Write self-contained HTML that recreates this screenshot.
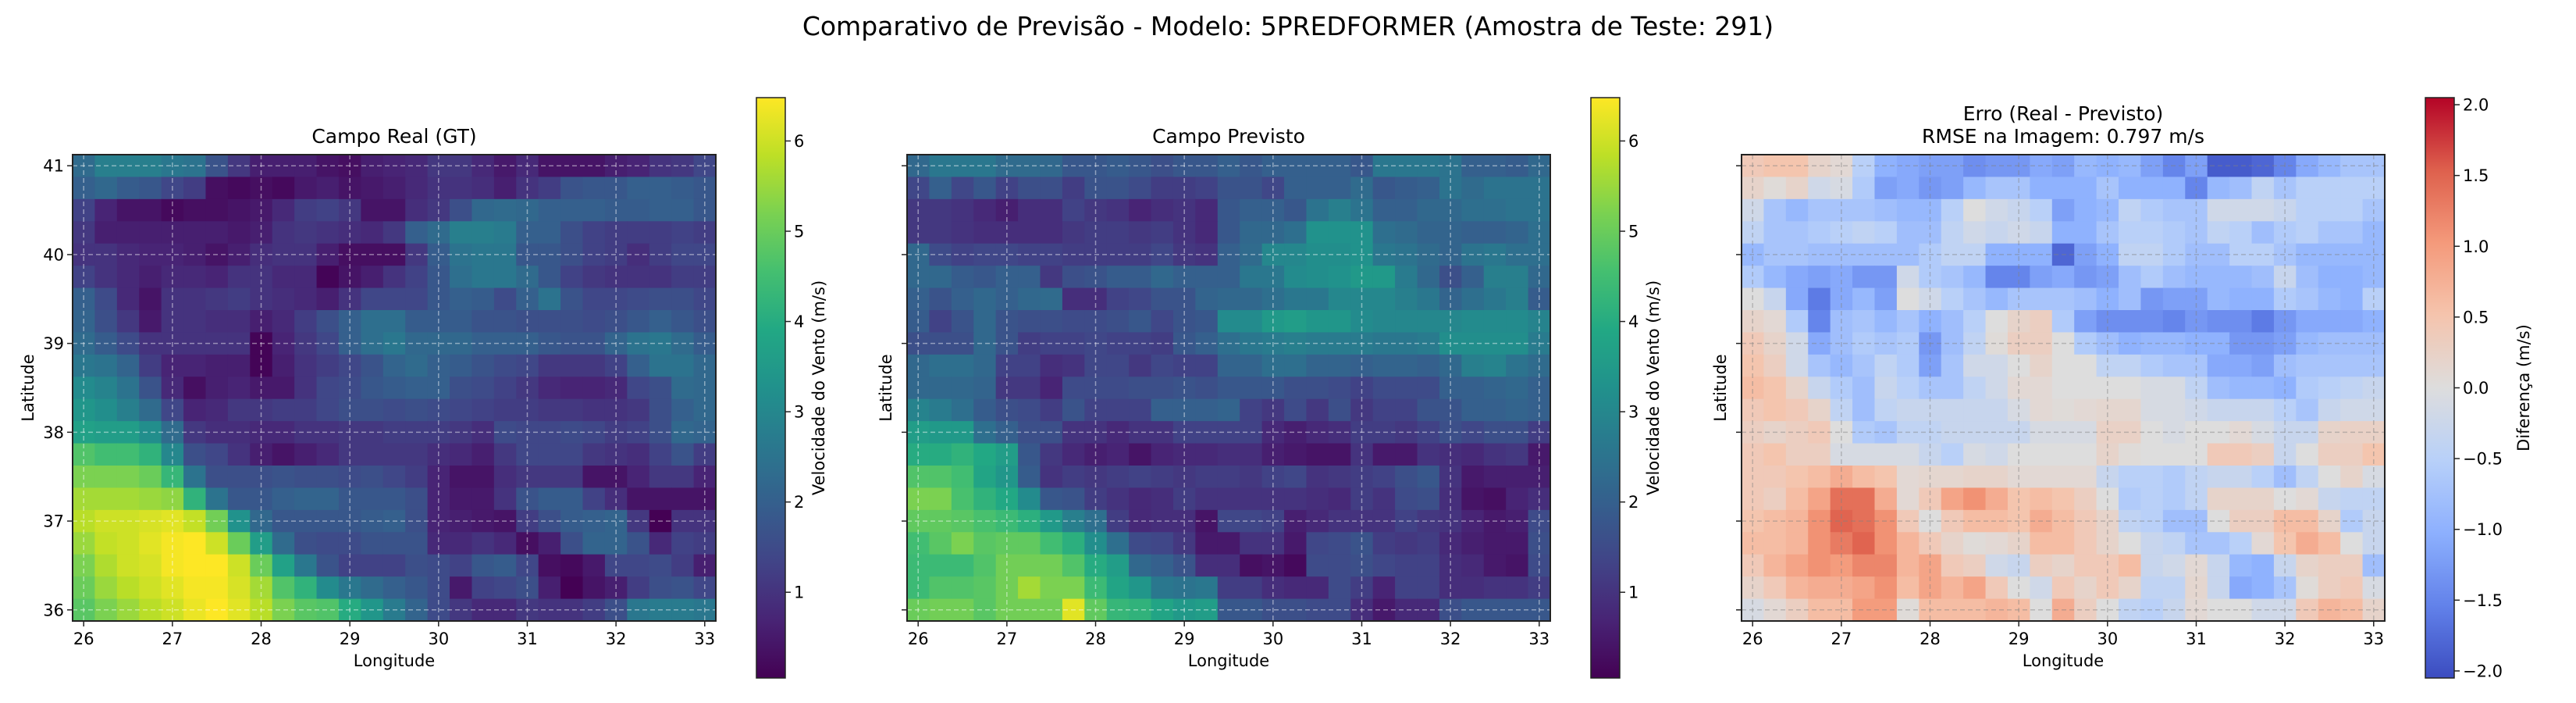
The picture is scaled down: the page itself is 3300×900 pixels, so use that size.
<!DOCTYPE html>
<html><head><meta charset="utf-8">
<style>
html,body{margin:0;padding:0;background:#fff;}
svg{display:block;font-family:"DejaVu Sans","Liberation Sans",sans-serif;}
</style></head>
<body>
<svg id="fig" width="3300" height="900" viewBox="0 0 3300 900" xmlns="http://www.w3.org/2000/svg">
<text x="1650" y="45" font-size="33" text-anchor="middle" fill="#000">Comparativo de Previsão - Modelo: 5PREDFORMER (Amostra de Teste: 291)</text>
<defs id="defs"></defs>
<g id="root"></g>
</svg>
<script>
const gtData = [
[2.3,2.8,2.8,2.8,2.6,2.5,1.7,1.1,0.6,0.6,0.6,0.4,0.3,0.6,0.7,0.8,1.1,1.1,0.8,0.5,0.8,0.4,0.4,0.4,0.6,0.7,1.0,1.1,1.4],
[2.0,2.2,1.9,1.8,1.4,1.2,0.3,0.2,0.3,0.2,0.5,0.6,0.4,0.5,0.6,0.8,1.0,1.0,0.9,0.6,1.0,1.2,1.7,1.8,1.8,2.0,2.0,1.9,1.8],
[1.3,0.7,0.4,0.4,0.2,0.3,0.3,0.4,0.5,0.8,1.2,1.3,1.1,0.4,0.4,0.9,1.1,1.6,2.2,2.3,2.2,2.0,2.0,2.0,1.9,1.9,2.0,2.0,1.8],
[1.1,0.6,0.6,0.6,0.6,0.6,0.6,0.5,0.6,1.0,1.1,1.0,0.9,0.8,1.1,2.0,2.3,2.8,2.8,2.7,2.0,2.0,1.6,1.3,1.2,1.2,1.2,1.3,1.2],
[1.0,1.0,0.8,0.7,0.7,0.6,0.4,0.6,0.9,1.0,1.0,0.6,0.3,0.3,0.3,1.1,1.9,2.5,2.6,2.6,1.8,1.8,1.6,1.3,1.2,0.9,1.2,1.4,1.4],
[1.3,1.0,0.8,0.6,0.8,0.8,0.7,1.0,1.0,0.8,0.8,0.1,0.4,0.6,1.0,1.3,1.8,2.4,2.6,2.6,2.3,1.8,1.3,1.1,1.0,1.0,1.0,1.2,1.2],
[2.0,1.5,0.8,0.4,1.0,1.0,1.1,1.2,1.0,0.9,0.8,0.6,1.0,1.4,1.4,1.4,1.8,2.0,1.9,1.5,2.0,2.5,1.7,1.4,1.4,1.5,1.6,1.6,1.4],
[2.1,1.6,1.1,0.5,1.0,1.0,0.9,0.9,0.6,0.8,1.2,1.6,2.0,2.4,2.4,1.9,1.9,1.9,1.7,1.7,1.6,1.6,1.6,1.5,1.6,1.8,2.0,1.8,1.6],
[2.3,1.9,1.5,1.0,1.0,1.0,1.0,1.0,0.1,0.7,1.1,1.4,2.0,2.4,2.6,2.2,2.2,2.2,2.0,2.0,2.0,1.8,1.7,1.7,2.1,2.5,2.6,2.3,1.9],
[2.6,2.5,2.1,1.2,0.7,0.7,0.6,0.6,0.1,0.6,1.0,1.2,1.4,1.7,2.1,2.3,2.0,1.9,1.7,1.5,1.4,1.1,1.1,1.1,1.3,2.0,2.5,2.5,2.2],
[3.1,2.9,2.5,1.7,0.8,0.3,0.6,0.7,0.5,0.5,1.0,1.4,1.5,1.8,1.9,2.0,2.0,1.6,1.5,1.3,1.1,0.8,0.7,0.7,0.8,1.4,1.6,2.3,2.2],
[3.4,3.2,2.8,2.3,1.4,0.7,0.8,1.1,1.1,1.2,1.2,1.4,1.6,1.6,1.5,1.6,1.5,1.4,1.3,1.2,1.2,1.1,1.1,1.0,1.0,1.1,1.6,2.0,2.2],
[3.7,3.6,3.6,3.2,2.3,1.1,0.9,0.9,0.8,0.8,1.0,1.0,1.1,1.1,1.2,1.2,1.2,1.1,0.9,1.5,1.4,1.4,1.5,1.4,1.2,1.3,1.6,2.2,2.1],
[4.7,4.5,4.5,4.2,3.0,1.6,1.4,1.0,0.6,0.4,0.6,0.8,1.1,1.1,1.1,1.1,0.9,0.8,0.6,1.1,1.4,1.4,1.4,1.1,1.0,0.9,1.3,1.7,1.2],
[5.2,5.2,5.2,5.0,4.3,2.5,1.6,1.6,1.6,1.7,1.6,1.6,1.5,1.6,1.4,1.2,0.7,0.4,0.4,0.9,1.1,1.1,1.1,0.4,0.4,0.7,1.1,1.1,0.7],
[5.6,5.6,5.6,5.5,5.4,4.2,2.5,1.8,1.8,2.0,2.1,2.1,1.8,1.8,1.8,1.6,0.7,0.5,0.5,1.0,1.7,1.9,1.9,1.3,0.9,0.4,0.4,0.4,0.4],
[5.8,6.0,6.0,6.1,6.2,5.9,5.1,3.3,2.2,1.8,1.8,1.8,1.8,1.9,2.0,1.6,0.7,0.6,0.5,0.4,1.2,1.6,1.9,2.0,2.1,1.1,0.05,1.0,1.0],
[5.5,5.9,6.0,6.2,6.4,6.5,6.0,5.0,3.6,2.3,1.6,1.5,1.5,1.7,1.7,1.7,0.8,0.8,1.0,0.8,0.3,0.6,1.6,2.1,2.1,1.7,0.8,1.3,1.2],
[5.2,5.7,6.0,6.1,6.4,6.5,6.5,6.0,5.0,3.7,2.6,1.7,1.3,1.3,1.3,1.6,1.5,1.3,1.8,1.9,1.4,0.3,0.2,0.5,1.4,1.4,1.5,1.2,0.6],
[5.0,5.5,5.8,6.0,6.2,6.4,6.4,6.1,5.6,4.7,4.2,3.1,2.6,2.3,2.0,1.8,1.5,0.5,1.3,1.4,1.6,0.6,0.05,0.4,0.6,1.2,1.6,1.7,1.4],
[4.8,5.2,5.5,5.8,6.0,6.3,6.5,6.2,5.8,5.2,4.8,4.7,4.0,3.4,2.7,2.1,1.5,1.1,0.8,0.8,1.1,1.0,1.0,1.2,1.6,2.6,2.7,2.7,2.6]
];
const predData = [
[2.2,2.6,2.6,2.6,2.3,2.3,2.2,1.8,1.8,1.9,1.8,1.6,1.8,1.8,2.0,1.8,2.0,2.0,2.0,2.0,1.8,2.6,2.6,2.6,2.5,2.0,2.0,1.9,2.2],
[1.4,2.0,1.4,1.8,1.3,1.6,1.6,1.2,1.7,1.7,1.5,1.2,1.2,1.3,1.7,1.7,1.4,2.0,2.0,2.0,2.3,1.8,1.9,2.0,2.5,2.3,2.5,2.5,2.5],
[1.1,1.1,1.0,0.8,0.6,0.9,0.9,1.3,1.1,1.0,0.7,0.9,1.0,0.8,1.8,2.0,2.0,1.8,2.5,2.8,2.5,2.0,2.0,2.2,2.2,2.4,2.4,2.5,2.5],
[1.1,1.1,1.0,0.9,0.9,0.9,0.9,1.1,1.2,1.2,1.1,1.2,1.0,0.8,1.8,2.2,2.2,2.4,3.3,3.3,3.3,2.4,2.3,2.1,2.1,2.0,2.0,2.1,2.4],
[2.2,1.5,1.3,1.4,1.4,1.3,1.3,1.2,1.2,1.2,1.2,1.4,1.1,1.0,2.0,2.3,3.0,3.0,3.2,3.2,3.3,2.6,2.5,2.3,2.1,2.5,2.6,2.4,2.4],
[2.2,2.2,1.9,1.8,2.0,2.0,1.1,1.6,1.7,1.9,1.9,2.2,2.0,2.0,2.0,2.6,2.6,3.1,3.2,3.3,3.5,3.5,2.7,2.2,1.6,2.0,2.8,2.8,2.2],
[2.0,1.7,2.0,2.2,2.0,2.2,2.3,0.9,0.9,1.3,1.4,1.7,1.7,2.1,2.2,2.2,2.4,2.6,2.6,3.0,3.0,3.0,2.8,2.6,2.1,2.4,2.6,2.8,1.9],
[1.9,1.3,1.7,2.2,1.7,1.6,1.6,1.5,1.5,1.6,1.8,1.4,1.7,1.8,3.1,3.1,3.5,3.6,3.4,3.4,3.1,3.0,3.0,3.0,3.0,3.1,3.1,3.1,2.9],
[1.6,1.6,1.6,2.2,1.7,1.2,1.3,1.3,1.4,1.3,1.3,1.2,1.8,2.0,2.4,2.6,2.7,2.8,2.7,2.7,2.7,2.6,2.6,2.7,3.2,3.2,3.2,3.2,2.7],
[2.2,2.4,2.4,2.2,1.3,1.3,0.9,1.0,1.4,1.4,1.1,1.4,1.3,1.3,2.1,2.1,2.4,2.4,2.1,2.1,2.0,2.1,2.1,2.0,2.2,2.8,2.9,2.5,2.3],
[2.2,2.2,2.2,2.1,1.1,1.1,0.7,1.5,1.5,1.5,1.6,1.6,1.7,1.6,1.8,1.8,1.8,1.6,1.6,1.5,1.3,1.5,1.5,1.5,2.0,2.0,2.1,2.2,2.0],
[2.9,2.7,2.4,1.9,1.6,1.5,1.2,1.7,1.3,1.3,1.3,2.0,2.0,2.0,2.1,1.3,1.1,1.5,1.1,1.6,1.1,1.3,1.3,1.7,1.7,2.0,2.0,2.1,2.0],
[3.6,3.5,3.5,2.4,2.0,1.6,1.6,1.0,1.0,0.8,1.0,1.0,1.3,1.3,1.3,1.3,0.8,0.6,0.8,0.9,1.2,1.2,1.1,1.3,1.6,1.4,1.6,1.6,1.2],
[4.0,4.0,4.2,3.9,3.6,1.8,1.1,0.8,0.6,0.7,0.4,0.7,0.8,0.8,0.9,0.9,0.6,0.5,0.4,0.4,1.0,0.5,0.5,1.0,0.9,0.8,1.0,1.1,0.5],
[4.7,4.7,4.5,3.8,3.4,1.9,1.0,1.2,1.1,1.2,1.3,1.2,1.1,1.2,1.2,1.1,1.3,1.4,1.0,1.1,1.2,1.3,1.6,1.8,1.0,0.5,0.6,0.6,0.6],
[5.2,5.2,4.6,4.2,3.9,3.1,1.8,1.7,1.2,1.0,0.8,0.9,1.2,1.0,1.0,1.0,1.0,1.0,0.9,0.8,1.2,1.0,1.5,1.6,0.9,0.4,0.3,0.7,0.9],
[4.9,4.9,4.8,4.6,4.4,4.1,3.5,2.8,2.4,1.2,0.8,0.9,0.9,0.4,1.4,1.4,1.3,0.6,0.8,1.0,1.0,1.0,1.3,1.1,1.0,0.7,0.5,0.6,1.5],
[4.5,4.8,5.2,4.8,4.9,4.9,4.5,4.1,3.2,2.4,1.5,1.4,1.1,0.5,0.5,1.0,1.0,0.5,1.4,1.5,1.7,1.2,1.1,1.2,0.8,0.6,0.5,0.5,1.6],
[4.4,4.4,4.4,4.7,5.1,5.1,5.1,4.7,4.0,3.6,2.2,2.0,1.7,0.9,0.9,0.3,0.4,0.2,1.5,1.5,1.6,1.4,1.3,1.3,0.9,0.8,0.5,0.4,1.5],
[4.4,4.7,4.7,4.8,5.1,5.6,5.2,5.2,4.4,3.8,3.4,2.6,2.5,2.6,1.2,1.2,0.9,0.8,0.8,1.5,1.2,0.7,1.3,1.3,0.9,0.9,1.0,1.0,1.2],
[5.0,5.1,5.1,4.8,5.1,5.1,5.1,6.2,4.9,4.3,4.2,3.8,3.5,3.6,1.8,1.8,1.6,1.6,1.5,1.5,0.9,0.5,0.8,0.8,1.6,1.8,1.8,1.8,1.8]
];
const errData = [
[0.4,0.5,0.5,0.2,0.1,-0.5,-1.0,-1.1,-1.2,-1.2,-1.4,-1.3,-1.3,-1.1,-1.2,-0.9,-1.0,-0.9,-1.2,-1.5,-1.2,-1.9,-1.9,-1.8,-1.5,-1.1,-0.9,-0.7,-0.7],
[0.2,0.05,0.2,-0.2,-0.1,-0.6,-1.2,-1.1,-1.3,-1.2,-0.9,-0.7,-0.7,-1.0,-1.0,-1.0,-0.7,-1.0,-1.0,-1.0,-1.5,-0.9,-0.8,-0.4,-0.7,-0.5,-0.5,-0.5,-0.5],
[-0.2,-0.7,-0.9,-0.7,-0.7,-0.7,-0.8,-0.9,-0.9,-0.5,0.0,-0.2,-0.3,-0.5,-1.2,-1.0,-0.9,-0.4,-0.6,-0.7,-0.7,-0.2,-0.2,-0.2,-0.3,-0.5,-0.5,-0.5,-0.7],
[-0.4,-0.7,-0.7,-0.6,-0.5,-0.4,-0.5,-0.8,-0.8,-0.4,-0.2,-0.3,-0.2,-0.3,-1.0,-1.0,-0.7,-0.5,-0.5,-0.6,-0.7,-0.4,-0.5,-0.8,-0.6,-0.5,-0.7,-0.7,-0.9],
[-0.9,-0.7,-0.7,-0.8,-0.8,-0.8,-0.8,-0.8,-0.6,-0.4,-0.4,-1.0,-1.0,-1.0,-1.8,-1.2,-1.0,-0.4,-0.4,-0.6,-0.8,-0.8,-0.5,-0.5,-0.7,-0.9,-0.9,-0.9,-0.9],
[-0.6,-0.9,-1.1,-1.2,-1.1,-1.3,-1.3,-0.2,-0.6,-0.7,-0.9,-1.5,-1.5,-1.2,-1.1,-1.3,-1.2,-0.8,-0.6,-0.8,-0.9,-0.9,-0.9,-0.8,-0.3,-0.8,-1.0,-1.0,-0.9],
[0.0,-0.3,-1.1,-1.6,-1.1,-0.9,-1.2,0.0,-0.2,-0.5,-0.7,-0.9,-0.7,-0.7,-0.7,-0.8,-1.0,-0.8,-1.3,-1.2,-1.2,-0.9,-1.0,-1.0,-0.6,-0.7,-0.9,-1.0,-0.5],
[0.2,0.1,-0.6,-1.5,-0.8,-0.7,-0.9,-0.7,-1.0,-0.8,-0.5,0.0,0.2,0.3,-0.6,-1.2,-1.4,-1.4,-1.4,-1.5,-1.3,-1.4,-1.4,-1.6,-1.3,-1.1,-1.1,-1.1,-1.0],
[0.4,0.2,-0.2,-1.1,-0.8,-0.6,-0.7,-0.6,-1.3,-0.8,-0.4,0.05,0.3,0.3,0.0,-0.6,-0.8,-1.0,-0.9,-0.9,-1.0,-1.0,-1.3,-1.3,-1.2,-0.9,-0.8,-0.8,-0.8],
[0.5,0.3,-0.2,-0.7,-0.9,-0.7,-0.4,-0.6,-1.2,-0.7,-0.2,-0.2,0.0,0.2,0.0,0.0,-0.4,-0.4,-0.6,-0.7,-0.7,-1.1,-1.1,-1.2,-0.8,-0.7,-0.7,-0.7,-0.7],
[0.6,0.5,0.2,-0.3,-0.6,-0.8,-0.3,-0.5,-0.7,-0.7,-0.4,-0.2,0.1,0.1,0.0,0.0,0.0,0.0,-0.1,-0.1,-0.4,-0.8,-0.9,-0.9,-1.0,-0.6,-0.5,-0.4,-0.3],
[0.4,0.5,0.4,0.2,-0.4,-0.8,-0.4,-0.3,-0.3,-0.3,-0.3,-0.3,-0.1,0.1,0.05,0.1,0.15,0.15,-0.1,-0.1,-0.2,-0.3,-0.3,-0.3,-0.5,-0.7,-0.3,-0.2,-0.2],
[0.3,0.2,0.3,0.4,0.0,-0.6,-0.7,-0.4,-0.4,-0.3,-0.3,-0.3,-0.3,-0.1,-0.1,-0.1,0.25,0.25,0.0,-0.1,0.0,0.0,0.1,-0.1,-0.3,-0.3,0.2,0.25,0.25],
[0.4,0.5,0.3,0.3,-0.1,-0.1,-0.1,-0.1,-0.3,-0.5,-0.1,-0.2,0.0,0.0,0.0,0.0,0.2,0.05,0.0,0.0,0.0,0.4,0.4,0.3,-0.3,0.0,0.3,0.3,0.5],
[0.4,0.4,0.5,0.6,0.8,0.6,0.5,0.1,0.15,0.15,0.2,0.2,0.1,0.1,0.1,0.1,-0.3,-0.5,-0.5,-0.6,-0.4,-0.3,-0.3,-0.5,-0.8,-0.4,0.0,0.2,-0.1],
[0.4,0.3,0.6,0.9,1.4,1.4,0.8,0.1,0.4,0.9,1.1,0.8,0.5,0.6,0.5,0.3,0.0,-0.6,-0.5,-0.6,-0.4,0.2,0.2,0.2,0.0,0.1,-0.3,-0.4,-0.4],
[0.5,0.6,0.7,1.1,1.5,1.4,1.1,0.4,0.0,0.4,0.6,0.6,0.5,0.8,0.6,0.4,0.2,-0.4,-0.5,-0.8,-0.8,0.0,0.3,0.3,0.6,0.6,0.2,-0.6,-0.3],
[0.6,0.6,0.7,1.1,1.3,1.5,1.1,0.7,0.4,0.2,0.05,0.1,0.2,0.6,0.6,0.4,0.2,0.0,-0.3,-0.4,-0.7,-0.7,-0.5,0.1,0.5,0.8,0.6,0.0,-0.3],
[0.4,0.7,0.9,1.1,1.0,1.2,1.2,0.7,0.9,0.4,0.3,-0.2,-0.3,0.3,0.2,0.4,0.4,0.6,-0.3,-0.2,0.1,-0.3,-0.9,-1.0,-0.3,0.2,0.3,0.3,-0.8],
[0.2,0.4,0.7,0.8,0.8,0.9,1.1,0.6,0.9,0.7,0.9,0.4,0.0,-0.2,0.4,0.2,0.4,0.2,-0.4,-0.4,0.15,-0.3,-1.1,-1.0,-0.7,0.05,0.3,0.4,-0.1],
[-0.1,0.1,0.3,0.6,0.6,1.0,1.0,0.05,0.6,0.6,0.6,0.7,0.6,0.0,0.8,0.3,0.0,-0.4,-0.5,-0.3,0.1,0.0,0.0,-0.2,-0.2,0.4,0.7,0.6,0.2]
];
const lonTicks = [26,27,28,29,30,31,32,33];
const latTicks = [36,37,38,39,40,41];
const speedTicks = [1,2,3,4,5,6];
const errTicks = [-2.0,-1.5,-1.0,-0.5,0.0,0.5,1.0,1.5,2.0];
const speedRange = [0.05,6.48];
const errRange = [-2.05,2.05];
const lonStart = 26, latStart = 41, step = 0.25;

const NS='http://www.w3.org/2000/svg';
const root=document.getElementById('root');
const defs=document.getElementById('defs');
function mk(tag,attrs,parent){const e=document.createElementNS(NS,tag);for(const k in attrs)e.setAttribute(k,attrs[k]);(parent||root).appendChild(e);return e;}

const VIR=[[68,1,84],[72,36,117],[65,68,135],[53,95,141],[42,120,142],[33,145,140],[34,168,132],[68,191,112],[122,209,81],[189,223,38],[253,231,37]];
const CW=[[59,76,192],[98,130,234],[141,176,254],[184,208,249],[221,221,221],[245,196,173],[244,154,123],[222,96,77],[180,4,38]];
function cmap(stops,t){t=Math.max(0,Math.min(1,t));const n=stops.length-1;const f=t*n;const i=Math.min(n-1,Math.floor(f));const r=f-i;const a=stops[i],b=stops[i+1];return 'rgb('+a.map((v,k)=>Math.round(v+(b[k]-v)*r)).join(',')+')';}

const T=198,B=795,H=B-T,PW=824;
const panels=[
 {L:93,data:gtData,stops:VIR,range:speedRange,title:['Campo Real (GT)'],name:'real',grid:'rgba(255,255,255,0.45)',ylabels:true,cbX:969,cbTicks:speedTicks,cbLabel:'Velocidade do Vento (m/s)',fmt:v=>String(v)},
 {L:1162,data:predData,stops:VIR,range:speedRange,title:['Campo Previsto'],name:'predicted',grid:'rgba(255,255,255,0.45)',ylabels:false,cbX:2038,cbTicks:speedTicks,cbLabel:'Velocidade do Vento (m/s)',fmt:v=>String(v)},
 {L:2231,data:errData,stops:CW,range:errRange,title:['Erro (Real - Previsto)','RMSE na Imagem: 0.797 m/s'],name:'error',grid:'rgba(128,128,128,0.45)',ylabels:false,cbX:3107,cbTicks:errTicks,cbLabel:'Diferença (m/s)',fmt:v=>(v<0?'\u2212':'')+Math.abs(v).toFixed(1)}
];
const CBT=125,CBB=868,CBW=37;

panels.forEach((p,pi)=>{
 p.R=p.L+PW;
 const W=PW;
 const lon0=lonStart-step/2, lon1=lonStart+step*(p.data[0].length-1)+step/2;
 const lat1=latStart+step/2, lat0=latStart-step*(p.data.length-1)-step/2;
 const xs=v=>p.L+(v-lon0)/(lon1-lon0)*W;
 const ys=v=>T+(lat1-v)/(lat1-lat0)*H;
 const g=mk('g',{});
 
 
 const hm=mk('g',{},g);
 
 
 p.data.forEach((row,j)=>row.forEach((v,i)=>{
  const lon=lonStart+i*step, lat=latStart-j*step;
  const x0=xs(lon-step/2), x1=xs(lon+step/2), y0=ys(lat+step/2), y1=ys(lat-step/2);
  const r=mk('rect',{x:x0.toFixed(2),y:y0.toFixed(2),width:(x1-x0+0.6).toFixed(2),height:(y1-y0+0.6).toFixed(2),fill:cmap(p.stops,(v-p.range[0])/(p.range[1]-p.range[0]))},hm);
  
  
 }));
 lonTicks.forEach(t=>{const l=mk('line',{x1:xs(t),x2:xs(t),y1:T,y2:B,stroke:p.grid,'stroke-width':1.5,'stroke-dasharray':'6,4'},g);});
 latTicks.forEach(t=>{const l=mk('line',{x1:p.L,x2:p.R,y1:ys(t),y2:ys(t),stroke:p.grid,'stroke-width':1.5,'stroke-dasharray':'6,4'},g);});
 const fr=mk('rect',{x:p.L,y:T,width:W,height:H,fill:'none',stroke:'#222','stroke-width':2},g);
 
 
 lonTicks.forEach(t=>{
  mk('line',{x1:xs(t),x2:xs(t),y1:B,y2:B+7,stroke:'#222','stroke-width':1.5},g);
  const tx=mk('text',{x:xs(t),y:B+30,'font-size':21,'text-anchor':'middle'},g);tx.textContent=t;
  
  
 });
 latTicks.forEach(t=>{
  mk('line',{x1:p.L-7,x2:p.L,y1:ys(t),y2:ys(t),stroke:'#222','stroke-width':1.5},g);
  if(p.ylabels){const tx=mk('text',{x:p.L-11,y:ys(t)+7.5,'font-size':21,'text-anchor':'end'},g);tx.textContent=t;
   
   }
 });
 const xl=mk('text',{x:(p.L+p.R)/2,y:B+58,'font-size':21,'text-anchor':'middle'},g);xl.textContent='Longitude';
 
 
 const ylx=p.L-(p.ylabels?50:20);
 const yl=mk('text',{x:ylx,y:(T+B)/2,'font-size':21,'text-anchor':'middle',transform:'rotate(-90 '+ylx+' '+((T+B)/2)+')'},g);yl.textContent='Latitude';
 
 
 p.title.forEach((s,k)=>{
  const ty=T-15-(p.title.length-1-k)*29;
  const tt=mk('text',{x:(p.L+p.R)/2,y:ty,'font-size':25,'text-anchor':'middle'},g);tt.textContent=s;
  
  
 });
 const gid='grad'+pi;
 const lg=mk('linearGradient',{id:gid,x1:0,y1:1,x2:0,y2:0},defs);
 for(let k=0;k<=40;k++){mk('stop',{offset:(k/40),'stop-color':cmap(p.stops,k/40)},lg);}
 const cb=mk('g',{},g);
 
 
 mk('rect',{x:p.cbX,y:CBT,width:CBW,height:CBB-CBT,fill:'url(#'+gid+')',stroke:'#222','stroke-width':1.5},cb);
 const cy=v=>CBB-(v-p.range[0])/(p.range[1]-p.range[0])*(CBB-CBT);
 p.cbTicks.forEach(t=>{
  const yy=cy(t);
  mk('line',{x1:p.cbX+CBW,x2:p.cbX+CBW+7,y1:yy,y2:yy,stroke:'#222','stroke-width':1.5},cb);
  const tx=mk('text',{x:p.cbX+CBW+11,y:yy+7.5,'font-size':21},cb);tx.textContent=p.fmt(t);
  
  
 });
 const lx=p.cbX+CBW+(pi==2?96:50);
 const cl=mk('text',{x:lx,y:(CBT+CBB)/2,'font-size':21,'text-anchor':'middle',transform:'rotate(-90 '+lx+' '+((CBT+CBB)/2)+')'},cb);cl.textContent=p.cbLabel;
 
 
});
</script>
</body></html>
